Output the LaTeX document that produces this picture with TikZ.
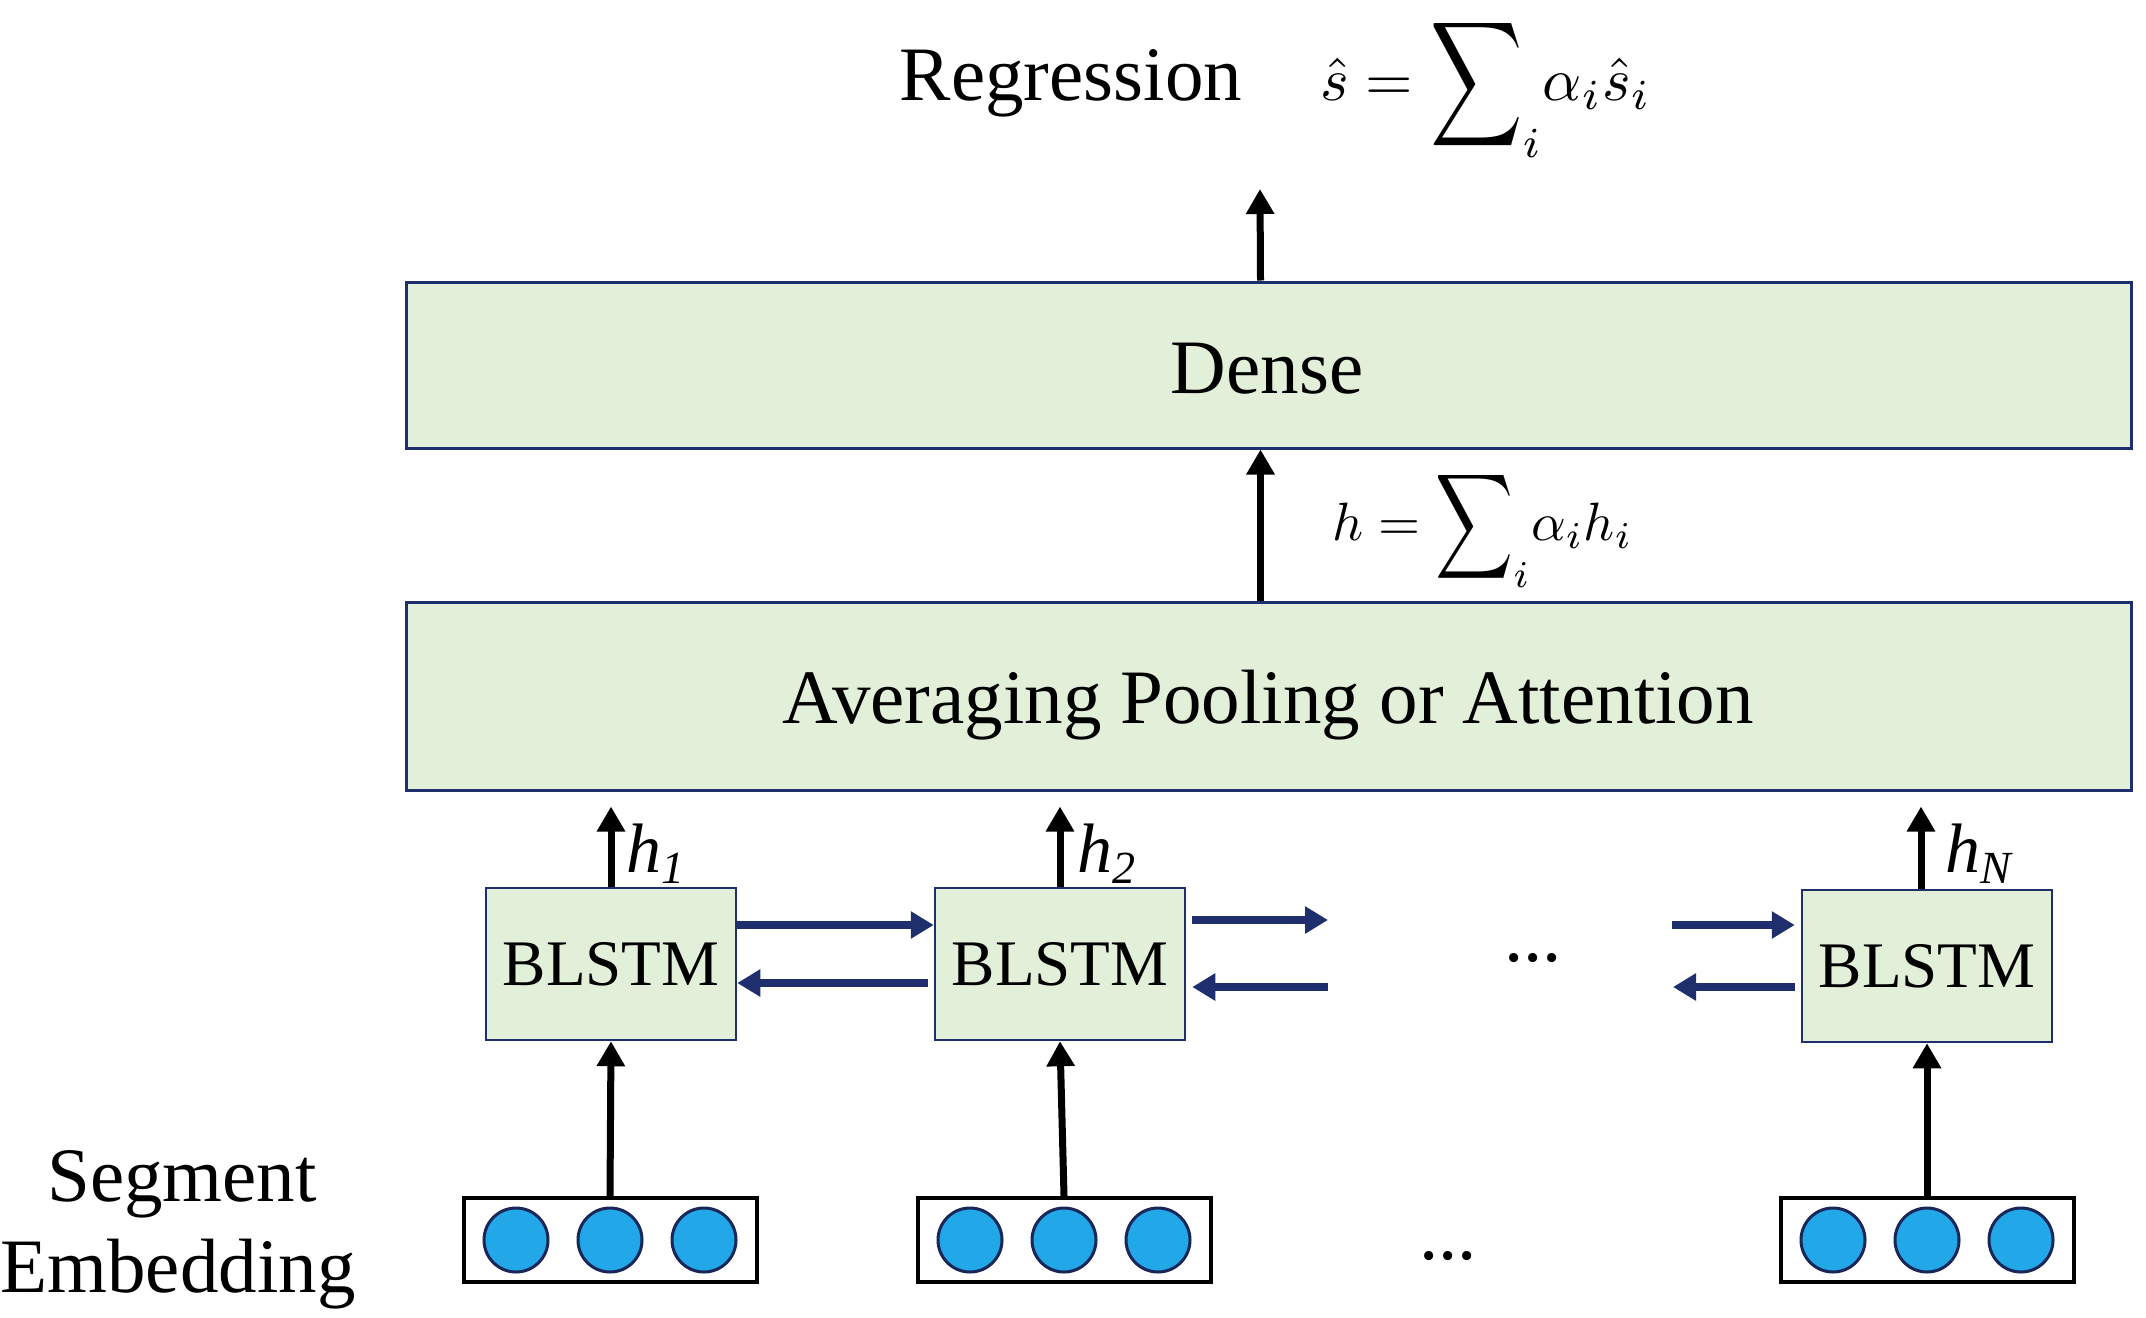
\documentclass[tikz,border=0pt]{standalone}
\usepackage{fontspec}
\setmainfont{Liberation Serif}
\usepackage{graphicx}
\usetikzlibrary{arrows.meta}
\definecolor{boxfill}{HTML}{E2EFD9}
\definecolor{navy}{HTML}{1F2F6E}
\definecolor{dotblue}{HTML}{22A8E8}
\newcommand\bigsum[2]{\mathop{\vcenter{\hbox{\scalebox{#1}[#2]{$\displaystyle\sum$}}}}}
\newcommand\hlab[1]{\fontsize{70}{70}\selectfont\itshape h\raisebox{-11pt}{\fontsize{46}{46}\selectfont #1}}
\begin{document}
\begin{tikzpicture}[x=1pt,y=-1pt,
  bigtext/.style={font=\fontsize{77}{80}\selectfont},
  layer/.style={draw=navy, line width=3pt, fill=boxfill, minimum width=1725pt, inner sep=0},
  blstm/.style={draw=navy, line width=2.5pt, fill=boxfill, minimum width=250pt, minimum height=152pt, inner sep=0, font=\fontsize{65}{65}\selectfont},
  emb/.style={draw=black, line width=4pt, fill=white, minimum width=293pt, minimum height=84pt, inner sep=0},
  dot/.style={circle, draw=navy!80!black, line width=3pt, fill=dotblue, minimum size=64pt, inner sep=0},
  uparrow/.style={-{Triangle[length=25pt,width=27pt]}, line width=7pt, black},
  recarrow/.style={-{Triangle[length=23pt,width=26pt]}, line width=7.5pt, navy}]
\useasboundingbox (0,0) rectangle (2146,1317);

% layers
\node[layer, minimum height=166pt] (dense) at (1268.5,365) {};
\node[bigtext, anchor=base] (densetxt) at (1267,393) {Dense};
\node[layer, minimum height=188pt] (att) at (1268.5,696) {};
\node[bigtext, anchor=base] (atttxt) at (1268,723) {Averaging Pooling or Attention};

% top
\node[bigtext, anchor=base] (reg) at (1071,100) {Regression};
\node[anchor=base west, inner sep=0] (sform) at (1320,100)
  {\scalebox{6.1}{$\hat{s} = \bigsum{1.05}{1.43}\nolimits_i\! \alpha_i\hat{s}_i$}};
\coordinate (regtop) at (1260,189);
\draw[uparrow] ([xshift=-8pt]dense.north) -- (regtop);
\draw[uparrow] ([xshift=-8pt]att.north) -- ([xshift=-8pt]dense.south);
\node[anchor=base west, inner sep=0] (hform) at (1332,540)
  {\scalebox{5.4}{$h = \bigsum{1.0}{1.36}\nolimits_i\! \alpha_i h_i$}};

% BLSTM
\node[blstm] (b1) at (611,964) {BLSTM};
\node[blstm] (b2) at (1060,964) {BLSTM};
\node[blstm] (bN) at (1927,966) {BLSTM};

\draw[uparrow, shorten >=15pt] (b1.north) -- (b1.north |- att.south);
\draw[uparrow, shorten >=15pt] (b2.north) -- (b2.north |- att.south);
\draw[uparrow, shorten >=15pt] ([xshift=-6pt]bN.north) -- ([xshift=-6pt]bN.north |- att.south);
\node[anchor=base west, inner sep=0] (h1) at (626,872) {\hlab{1}};
\node[anchor=base west, inner sep=0] (h2) at (1077,872) {\hlab{2}};
\node[anchor=base west, inner sep=0] (hN) at (1945,872) {\hlab{N}};

% recurrent arrows
\draw[recarrow] ([yshift=39pt]b1.east) -- ([yshift=39pt]b2.west);
\draw[recarrow] ([yshift=-19pt,xshift=-6pt]b2.west) -- ([yshift=-19pt]b1.east);
\coordinate (r2f) at (1328,920);
\coordinate (r2b) at (1328,987);
\draw[recarrow] ([xshift=6pt]b2.east |- r2f) -- (r2f);
\draw[recarrow] (r2b) -- ([xshift=6pt]b2.east |- r2b);
\coordinate (rNf) at (1672,925);
\coordinate (rNb) at (1673,987);
\draw[recarrow] (rNf) -- ([xshift=-6pt]bN.west |- rNf);
\draw[recarrow] ([xshift=-6pt]bN.west |- rNb) -- (rNb);
\node[bigtext] (dots1) at (1533,958) {...};

% embeddings
\node[emb] (e1) at (610,1240) {};
\node[emb] (e2) at (1064,1240) {};
\node[emb] (e3) at (1927,1240) {};
\foreach \e in {e1,e2,e3}{
  \node[dot] (\e a) at ([xshift=-94pt]\e.center) {};
  \node[dot] (\e b) at (\e.center) {};
  \node[dot] (\e c) at ([xshift=94pt]\e.center) {};
}
\node[bigtext] (dots2) at (1448,1256) {...};
\draw[uparrow] (e1.north) -- (b1.south);
\draw[uparrow] (e2.north) -- (b2.south);
\draw[uparrow] (e3.north) -- (bN.south);

\node[bigtext, anchor=base] (seg) at (182,1201) {Segment};
\node[bigtext, anchor=base] (embd) at (178,1292) {Embedding};
\end{tikzpicture}
\end{document}
